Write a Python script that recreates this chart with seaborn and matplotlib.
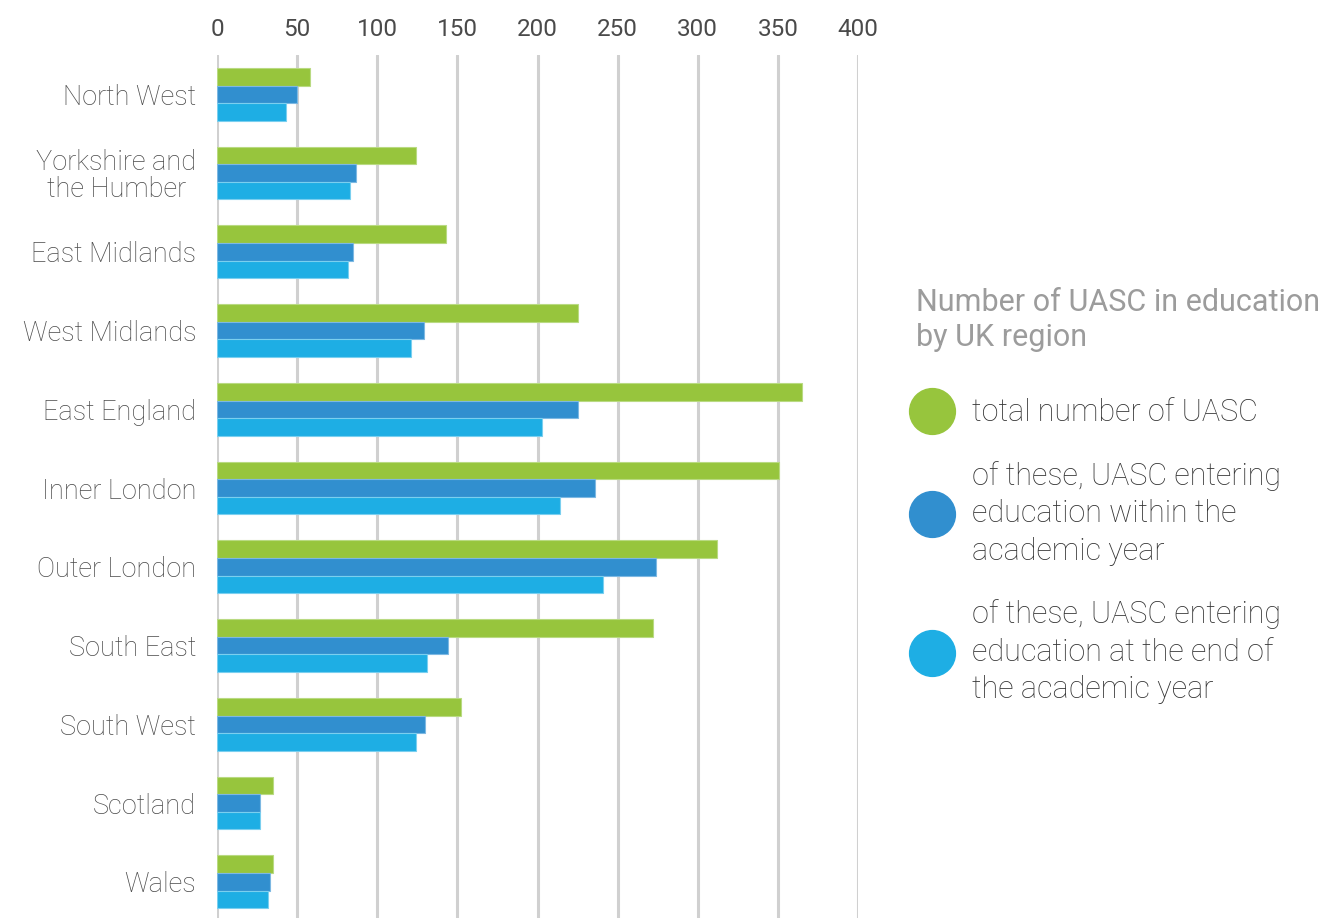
import matplotlib
matplotlib.use("Agg")
import matplotlib.pyplot as plt
from matplotlib.lines import Line2D
import seaborn as sns
import pandas as pd

regions = ["North West", "Yorkshire and\nthe Humber", "East Midlands", "West Midlands",
           "East England", "Inner London", "Outer London", "South East", "South West",
           "Scotland", "Wales"]
total = [58, 124, 143, 225, 365, 351, 312, 272, 152, 35, 35]
within_year = [50, 87, 85, 129, 225, 236, 274, 144, 130, 27, 33]
end_of_year = [43, 83, 82, 121, 203, 214, 241, 131, 124, 27, 32]
series_names = ["total number of UASC",
                "of these, UASC entering\neducation within the\nacademic year",
                "of these, UASC entering\neducation at the end of\nthe academic year"]
xticks = [0, 50, 100, 150, 200, 250, 300, 350, 400]

colors = ["#97C53D", "#318FCF", "#1EAEE4"]
edges = ["#B9DA82", "#7DB8E2", "#7ACFEF"]

rows = []
for i, r in enumerate(regions):
    for name, vals in zip(series_names, [total, within_year, end_of_year]):
        rows.append({"region": r, "series": name, "value": vals[i]})
df = pd.DataFrame(rows)

sns.set_theme(style="white")
plt.rcParams["font.family"] = ["Roboto", "DejaVu Sans"]
plt.rcParams["font.weight"] = "light"

fig = plt.figure(figsize=(13.24, 9.18), dpi=100)
ax = fig.add_axes([217 / 1324, 0.0, 641 / 1324, 1 - 55 / 918])

sns.barplot(data=df, y="region", x="value", hue="series", orient="h",
            palette=colors, width=0.67, gap=0, ax=ax, legend=False,
            linewidth=0.8, edgecolor="white", saturation=1)
for k, cont in enumerate(ax.containers):
    for p in cont:
        p.set_edgecolor(edges[k])

ax.set_xlim(0, 400)
ax.set_ylim(10.46, -0.5)
ax.set_xticks(xticks)
ax.xaxis.tick_top()
ax.tick_params(axis="x", length=0, pad=10, labelsize=17.5, labelcolor="#4A4A4A")
ax.tick_params(axis="y", length=0, pad=15, labelsize=19.5, labelcolor="#4A4A4A")
for lab in ax.get_xticklabels():
    lab.set_fontweight("normal")
for lab in ax.get_yticklabels():
    lab.set_fontweight("light")
    lab.set_multialignment("center")
    lab.set_linespacing(1.0)
ax.set_xlabel("")
ax.set_ylabel("")
ax.grid(axis="x", color="#D0D0D0", linewidth=2.2)
ax.set_axisbelow(True)
for s in ax.spines.values():
    s.set_visible(False)

handles = [Line2D([], [], marker="o", linestyle="none", markersize=33,
                  markerfacecolor=c, markeredgecolor=c) for c in colors]
leg = fig.legend(handles, series_names, loc="upper left",
                 bbox_to_anchor=(888 / 1324, 1 - 260 / 918),
                 frameon=False, title="Number of UASC in education\nby UK region",
                 alignment="left", fontsize=22, title_fontsize=22,
                 handlelength=1.1, handletextpad=0.75, labelspacing=1.11)
leg.get_title().set_color("#9C9C9C")
leg.get_title().set_fontweight("normal")
leg._legend_box.sep = 33
for t in leg.get_texts():
    t.set_color("#333333")
    t.set_fontweight("light")
    t.set_linespacing(1.36)
leg.get_title().set_linespacing(1.3)

fig.savefig("out.png", dpi=100)
